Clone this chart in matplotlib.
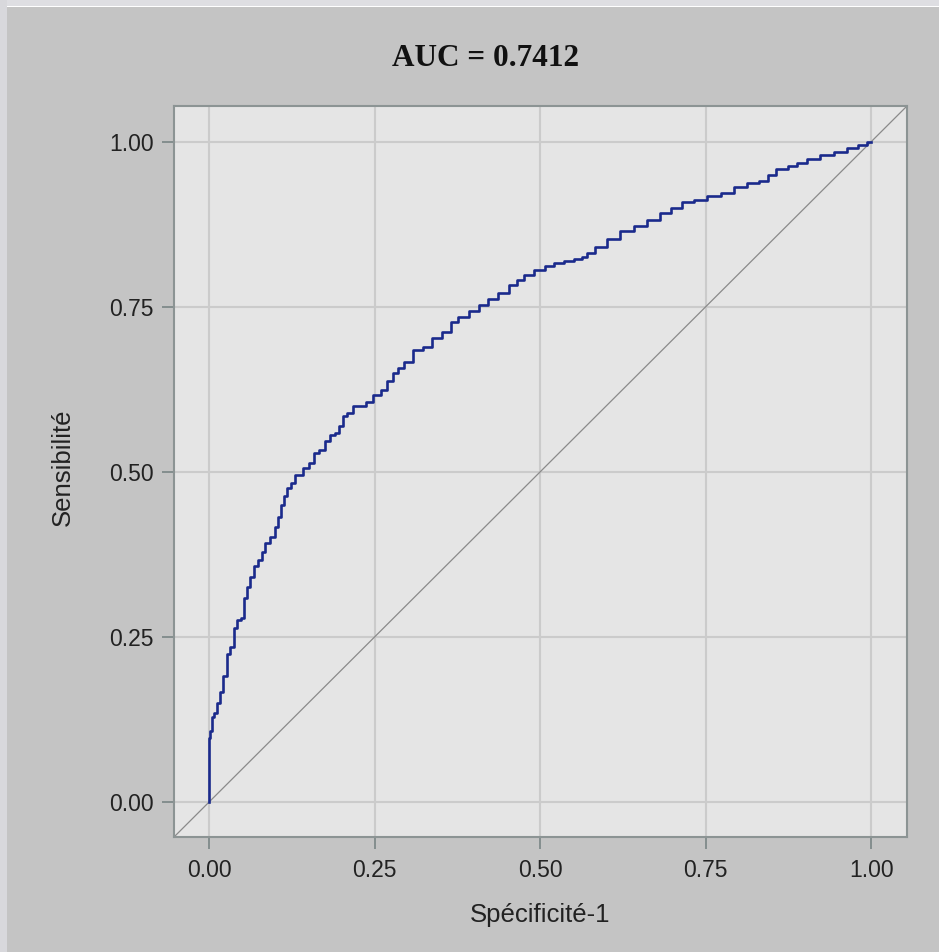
import matplotlib
matplotlib.use("Agg")
import matplotlib.pyplot as plt
from matplotlib.patches import Rectangle

# ROC curve vertices (1 - specificity, sensitivity)
fpr = [0.000, 0.000, 0.004, 0.004, 0.010, 0.015, 0.019, 0.024, 0.029, 0.035,
       0.040, 0.044, 0.051, 0.055, 0.060, 0.065, 0.071, 0.077, 0.082, 0.087,
       0.097, 0.101, 0.106, 0.111, 0.115, 0.121, 0.125, 0.135, 0.148, 0.155,
       0.163, 0.170, 0.180, 0.185, 0.195, 0.198, 0.205, 0.213, 0.223, 0.236,
       0.238, 0.256, 0.263, 0.273, 0.281, 0.289, 0.301, 0.316, 0.331, 0.341,
       0.361, 0.369, 0.384, 0.402, 0.414, 0.429, 0.445, 0.460, 0.470, 0.482,
       0.500, 0.515, 0.528, 0.543, 0.560, 0.565, 0.576, 0.591, 0.611, 0.631,
       0.651, 0.671, 0.691, 0.705, 0.724, 0.742, 0.762, 0.784, 0.802, 0.822,
       0.840, 0.847, 0.865, 0.883, 0.893, 0.913, 0.933, 0.953, 0.973, 0.986,
       1.000]
tpr = [0.000, 0.097, 0.107, 0.129, 0.135, 0.150, 0.166, 0.191, 0.224, 0.235,
       0.264, 0.275, 0.279, 0.309, 0.326, 0.341, 0.357, 0.366, 0.379, 0.392,
       0.402, 0.417, 0.432, 0.450, 0.463, 0.475, 0.483, 0.495, 0.506, 0.513,
       0.528, 0.533, 0.546, 0.556, 0.559, 0.569, 0.584, 0.589, 0.599, 0.599,
       0.606, 0.617, 0.624, 0.637, 0.650, 0.657, 0.667, 0.685, 0.689, 0.702,
       0.711, 0.727, 0.735, 0.743, 0.753, 0.761, 0.771, 0.783, 0.790, 0.798,
       0.806, 0.811, 0.817, 0.820, 0.822, 0.826, 0.831, 0.840, 0.853, 0.864,
       0.873, 0.882, 0.892, 0.900, 0.909, 0.912, 0.917, 0.923, 0.932, 0.938,
       0.941, 0.950, 0.958, 0.963, 0.968, 0.973, 0.980, 0.985, 0.990, 0.995,
       1.000]

ticks = [0.00, 0.25, 0.50, 0.75, 1.00]
tick_labels = ["0.00", "0.25", "0.50", "0.75", "1.00"]
auc = 0.7412

# ---- figure ----
fig = plt.figure(figsize=(9.39, 9.52), dpi=100, facecolor="#c4c4c4")

# light window edges (top strip and left strip)
fig.patches.append(Rectangle((0, 1 - 6 / 952), 1, 6 / 952, transform=fig.transFigure,
                             facecolor="#dedee2", edgecolor="none", zorder=0))
fig.patches.append(Rectangle((0, 1 - 7 / 952), 1, 1.5 / 952, transform=fig.transFigure,
                             facecolor="#ffffff", edgecolor="none", zorder=0))
fig.patches.append(Rectangle((0, 0), 7 / 939, 1, transform=fig.transFigure,
                             facecolor="#d8d8dc", edgecolor="none", zorder=0))

ax = fig.add_axes([174 / 939, 115 / 952, 733 / 939, 731 / 952])
ax.set_facecolor("#e5e5e5")

# grid
ax.grid(True, color="#cbcbcb", linewidth=1.5)
ax.set_axisbelow(True)

# reference diagonal
ax.axline((0, 0), (1, 1), color="#8a8a8a", linewidth=0.9, zorder=2)

# ROC curve
ax.plot(fpr, tpr, color="#1a2a8c", linewidth=1.9, drawstyle="steps-mid", zorder=3)

ax.set_xlim(-0.053, 1.054)
ax.set_ylim(-0.053, 1.054)
ax.set_xticks(ticks)
ax.set_xticklabels(tick_labels)
ax.set_yticks(ticks)
ax.set_yticklabels(tick_labels)

for s in ax.spines.values():
    s.set_color("#8c9494")
    s.set_linewidth(1.5)

ax.tick_params(axis="both", direction="out", length=8.5, width=1.3,
               color="#7f8a8a", labelsize=16.5, labelcolor="#222222")
ax.tick_params(axis="x", pad=7)
ax.tick_params(axis="y", pad=6)
for lab in ax.get_xticklabels() + ax.get_yticklabels():
    lab.set_family(["Liberation Sans", "DejaVu Sans"])

ax.set_xlabel("Spécificité-1", fontsize=18.5, color="#222222",
              family=["Liberation Sans", "DejaVu Sans"])
ax.set_ylabel("Sensibilité", fontsize=18.5, color="#222222",
              family=["Liberation Sans", "DejaVu Sans"])
ax.xaxis.label.set_va("center")
ax.yaxis.label.set_va("center")
ax.xaxis.set_label_coords(0.5, -0.107)
ax.yaxis.set_label_coords(-0.152, 0.506)

# title
fig.text(486 / 939, 1 - 59 / 952, f"AUC = {auc:.4f}", ha="center", va="center",
         fontsize=22.5, fontweight="bold", color="#111111",
         family=["Liberation Serif", "DejaVu Serif"])

fig.savefig("out.png", dpi=100, facecolor=fig.get_facecolor())
